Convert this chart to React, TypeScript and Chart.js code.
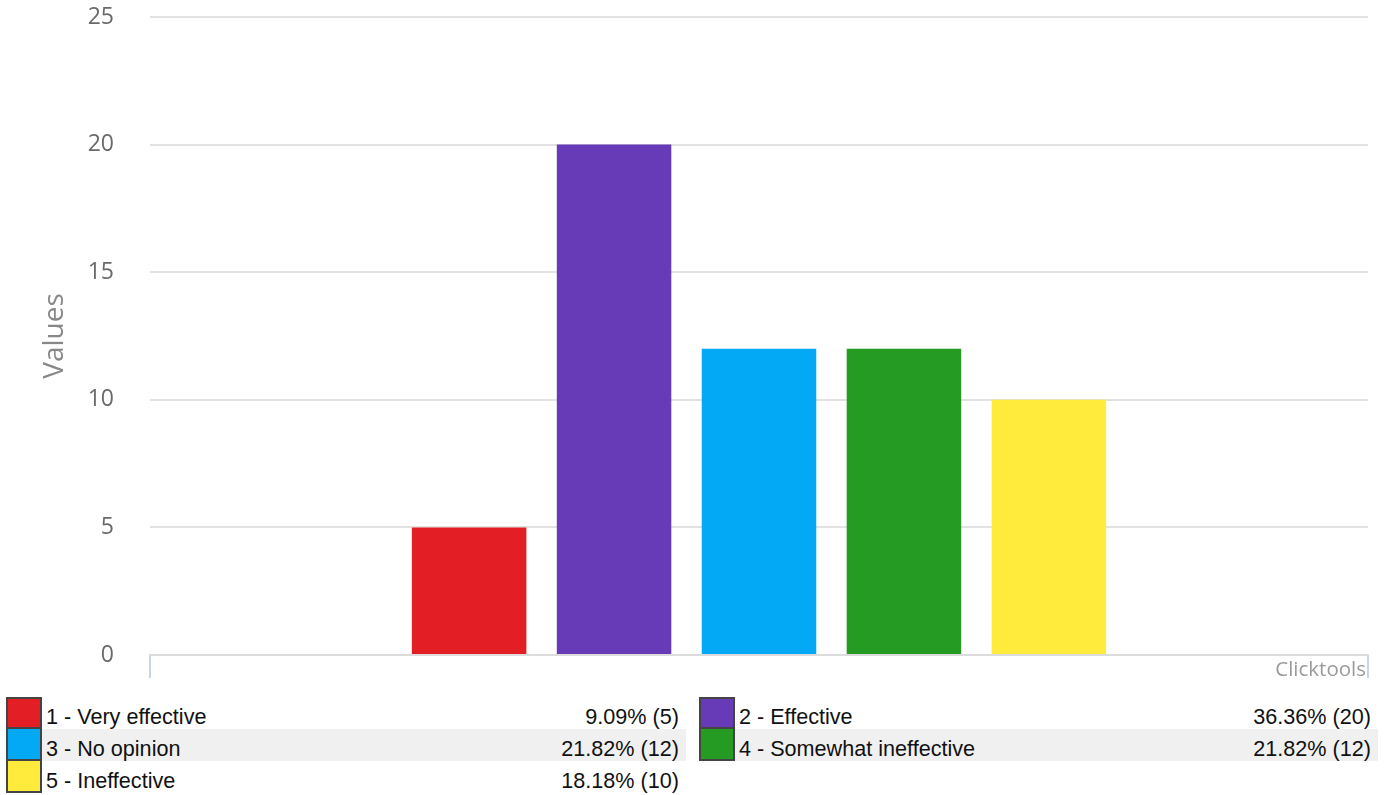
import React, { useEffect, useRef } from "react";
import { Chart, registerables } from "chart.js";

Chart.register(...registerables);

const categories = [
  "1 - Very effective",
  "2 - Effective",
  "3 - No opinion",
  "4 - Somewhat ineffective",
  "5 - Ineffective",
];
const counts = [5, 20, 12, 12, 10];
const percentLabels = ["9.09%", "36.36%", "21.82%", "21.82%", "18.18%"];
const colors = ["#e31e24", "#673ab7", "#03a9f4", "#259b24", "#ffeb3b"];
const yTicks = [0, 5, 10, 15, 20, 25];

const CHART_W = 1393;
const CHART_H = 692;

const creditPlugin = {
  id: "credit",
  afterDraw(chart: any) {
    const { ctx, chartArea } = chart;
    ctx.save();
    ctx.font = "20.5px 'Open Sans'";
    ctx.fillStyle = "#9a9a9a";
    ctx.textAlign = "right";
    ctx.textBaseline = "middle";
    ctx.fillText("Clicktools", chartArea.right - 2, chartArea.bottom + 15);
    ctx.restore();
  },
};

function LegendCell({ i, left, width }: { i: number; left: number; width: number }) {
  const row = Math.floor(i / 2);
  const gray = row === 1;
  return (
    <div
      style={{
        position: "absolute",
        left,
        top: row * 32,
        width,
        height: 32,
        display: "flex",
        alignItems: "stretch",
      }}
    >
      <div
        style={{
          width: 36,
          boxSizing: "border-box",
          height: row === 0 ? 32 : 34,
          marginTop: row === 0 ? 0 : -2,
          border: "2px solid #444",
          background: colors[i],
          flex: "0 0 auto",
        }}
      />
      <div
        style={{
          flex: 1,
          boxSizing: "border-box",
          display: "flex",
          alignItems: "center",
          justifyContent: "space-between",
          background: gray ? "#f0f0f0" : "transparent",
          paddingLeft: 4,
          paddingRight: 7,
          paddingTop: 8,
          fontFamily: "'Liberation Sans', Arial, sans-serif",
          fontSize: 21.6,
          color: "#111",
          whiteSpace: "nowrap",
        }}
      >
        <span>{categories[i]}</span>
        <span>
          {percentLabels[i]} ({counts[i]})
        </span>
      </div>
    </div>
  );
}

export default function App() {
  const canvasRef = useRef<HTMLCanvasElement | null>(null);

  useEffect(() => {
    if (!canvasRef.current) return;
    const chart = new Chart(canvasRef.current, {
      type: "bar",
      data: {
        labels: [""],
        datasets: categories.map((c, i) => ({
          label: c,
          data: [counts[i]],
          backgroundColor: colors[i],
          borderWidth: 0,
          categoryPercentage: 0.595,
          barPercentage: 0.79,
        })),
      },
      options: {
        animation: false,
        responsive: false,
        maintainAspectRatio: false,
        layout: { padding: { top: 17, right: 25, left: 0, bottom: 0 } },
        plugins: {
          legend: { display: false },
          tooltip: { enabled: false },
        },
        scales: {
          x: {
            offset: true,
            grid: {
              offset: true,
              display: true,
              drawOnChartArea: false,
              drawTicks: true,
              tickLength: 23,
              color: "#c8d6e8",
              lineWidth: 2,
            },
            border: { display: true, color: "#dcdcdc", width: 2 },
            ticks: { display: false },
            afterFit: (scale: any) => {
              scale.height = 37;
              scale.paddingLeft = 0;
              scale.paddingRight = 0;
            },
          },
          y: {
            min: 0,
            max: 25,
            afterBuildTicks: (scale: any) => {
              scale.ticks = yTicks.map((v) => ({ value: v }));
            },
            grid: { color: "#e2e2e2", lineWidth: 2, drawTicks: false },
            border: { display: false },
            ticks: {
              padding: 36,
              color: "#6a6a6a",
              font: { family: "'Open Sans'", size: 23 },
            },
            title: {
              display: true,
              text: "Values",
              color: "#888",
              font: { family: "'Open Sans'", size: 28 },
              padding: { top: 38, bottom: 0 },
            },
            afterFit: (scale: any) => {
              scale.width = 150;
              scale.paddingTop = 0;
              scale.paddingBottom = 0;
            },
          },
        },
      },
      plugins: [creditPlugin],
    });
    return () => chart.destroy();
  }, []);

  return (
    <div
      style={{
        position: "absolute",
        left: 0,
        top: 0,
        width: CHART_W,
        height: 795,
        background: "#fff",
      }}
    >
      <canvas
        ref={canvasRef}
        width={CHART_W}
        height={CHART_H}
        style={{ display: "block", width: CHART_W, height: CHART_H }}
      />
      <div style={{ position: "absolute", left: 0, top: 697, width: CHART_W, height: 98 }}>
        {categories.map((_, i) =>
          i % 2 === 0 ? (
            <LegendCell key={i} i={i} left={6} width={680} />
          ) : (
            <LegendCell key={i} i={i} left={699} width={679} />
          )
        )}
      </div>
    </div>
  );
}
